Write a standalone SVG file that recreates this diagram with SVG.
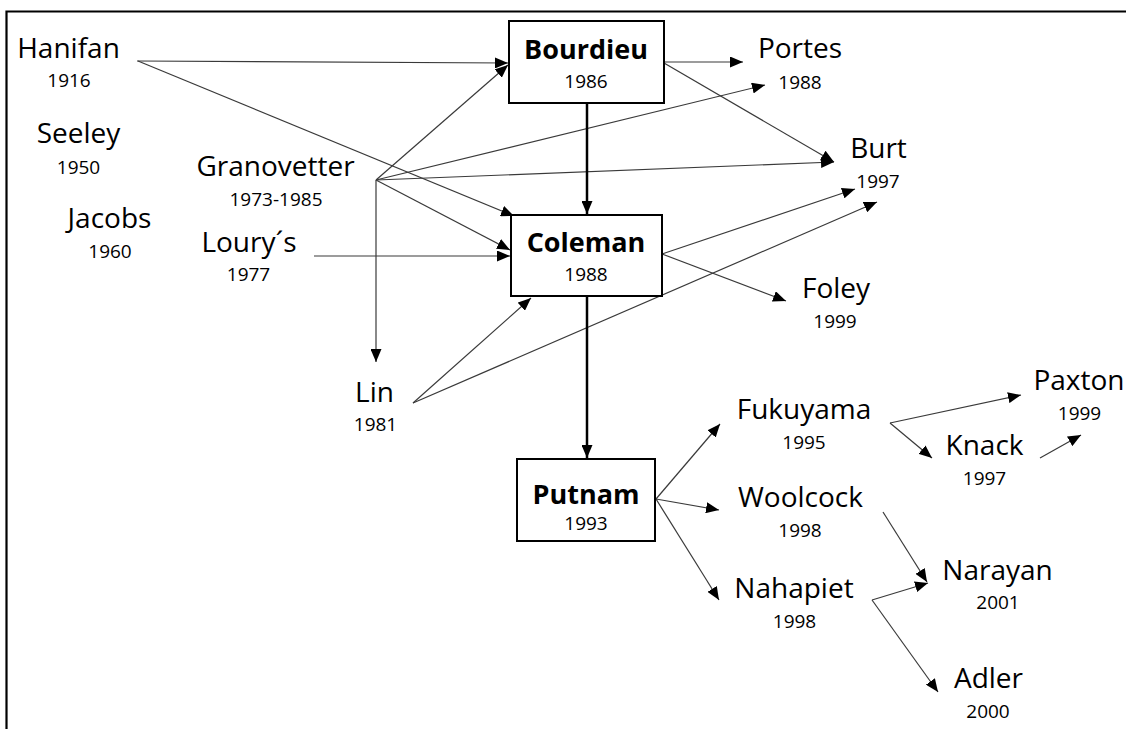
<svg xmlns="http://www.w3.org/2000/svg" width="1126" height="729" viewBox="0 0 1126 729">
  <style>
    .name { font-family: "Open Sans", "Liberation Sans", sans-serif; font-size: 28px; fill: #000; text-anchor: middle; }
    .bold { font-family: "Open Sans", "Liberation Sans", sans-serif; font-size: 27px; font-weight: bold; fill: #000; text-anchor: middle; }
    .year { font-family: "Open Sans", "Liberation Sans", sans-serif; font-size: 19px; fill: #000; text-anchor: middle; }
    .box { fill: #fff; stroke: #000; stroke-width: 2; }
    .thin { fill: none; stroke: #3a3a3a; stroke-width: 1.2; marker-end: url(#head); }
    .thick { fill: none; stroke: #000; stroke-width: 2.5; marker-end: url(#head); }
    .frame { fill: none; stroke: #000; stroke-width: 2.2; }
  </style>
  <defs>
    <marker id="head" markerUnits="userSpaceOnUse" markerWidth="14" markerHeight="11" refX="13" refY="5.5" orient="auto">
      <path d="M0,0 L13,5.5 L0,11 Z" fill="#000"/>
    </marker>
  </defs>

  <rect width="1126" height="729" fill="#fff"/>
  <!-- open frame: top and left edges -->
  <path class="frame" d="M6.5,729 V11.5 H1126"/>

  <!-- connectors -->
  <g id="connectors">
    <line class="thin" x1="137" y1="61" x2="508" y2="63"/>
    <line class="thin" x1="138" y1="61" x2="514" y2="216"/>
    <line class="thin" x1="376" y1="180" x2="508" y2="65"/>
    <line class="thin" x1="376" y1="180" x2="765" y2="85"/>
    <line class="thin" x1="376" y1="180" x2="834" y2="162"/>
    <line class="thin" x1="376" y1="180" x2="510" y2="250"/>
    <line class="thin" x1="376" y1="180" x2="376" y2="362"/>
    <line class="thin" x1="314" y1="256" x2="510" y2="256"/>
    <line class="thin" x1="664" y1="62" x2="743" y2="62"/>
    <line class="thin" x1="664" y1="63" x2="834" y2="162"/>
    <line class="thin" x1="662" y1="254" x2="855" y2="189"/>
    <line class="thin" x1="662" y1="254" x2="786" y2="301"/>
    <line class="thin" x1="413" y1="403" x2="877" y2="202"/>
    <line class="thin" x1="413" y1="403" x2="531" y2="298"/>
    <line class="thick" x1="587" y1="103" x2="587" y2="214"/>
    <line class="thick" x1="587" y1="296" x2="587" y2="458"/>
    <line class="thin" x1="656" y1="499" x2="720" y2="424"/>
    <line class="thin" x1="656" y1="499" x2="719" y2="510"/>
    <line class="thin" x1="656" y1="499" x2="719" y2="600"/>
    <line class="thin" x1="890" y1="423" x2="1021" y2="395"/>
    <line class="thin" x1="890" y1="423" x2="932" y2="458"/>
    <line class="thin" x1="1040" y1="458" x2="1081" y2="435"/>
    <line class="thin" x1="883" y1="512" x2="927" y2="582"/>
    <line class="thin" x1="872" y1="600" x2="928" y2="583"/>
    <line class="thin" x1="872" y1="600" x2="938" y2="692"/>
  </g>

  <!-- nodes -->
  <g id="hanifan"><text class="name" x="68.5" y="58">Hanifan</text><text class="year" x="69" y="87">1916</text></g>
  <g id="seeley"><text class="name" x="78.5" y="143">Seeley</text><text class="year" x="78.5" y="174">1950</text></g>
  <g id="jacobs"><text class="name" x="109.5" y="228">Jacobs</text><text class="year" x="110" y="258">1960</text></g>
  <g id="granovetter"><text class="name" x="275.5" y="176">Granovetter</text><text class="year" x="276" y="206">1973-1985</text></g>
  <g id="loury"><text class="name" x="249" y="252">Loury´s</text><text class="year" x="248.5" y="281">1977</text></g>
  <g id="lin"><text class="name" x="374.5" y="402">Lin</text><text class="year" x="375.5" y="431">1981</text></g>

  <g id="bourdieu">
    <rect class="box" x="509" y="21" width="155" height="82"/>
    <text class="bold" x="586" y="59">Bourdieu</text><text class="year" x="586" y="88">1986</text>
  </g>
  <g id="coleman">
    <rect class="box" x="511" y="215" width="151" height="81"/>
    <text class="bold" x="586" y="252">Coleman</text><text class="year" x="586" y="281">1988</text>
  </g>
  <g id="putnam">
    <rect class="box" x="517" y="459" width="138" height="82"/>
    <text class="bold" x="586" y="504">Putnam</text><text class="year" x="586" y="530">1993</text>
  </g>

  <g id="portes"><text class="name" x="800" y="58">Portes</text><text class="year" x="800" y="89">1988</text></g>
  <g id="burt"><text class="name" x="878.5" y="158">Burt</text><text class="year" x="878" y="188">1997</text></g>
  <g id="foley"><text class="name" x="836" y="298">Foley</text><text class="year" x="835" y="328">1999</text></g>
  <g id="fukuyama"><text class="name" x="804" y="419">Fukuyama</text><text class="year" x="804" y="449">1995</text></g>
  <g id="knack"><text class="name" x="984.5" y="455">Knack</text><text class="year" x="984.5" y="485">1997</text></g>
  <g id="paxton"><text class="name" x="1079" y="390">Paxton</text><text class="year" x="1079.5" y="420">1999</text></g>
  <g id="woolcock"><text class="name" x="800.5" y="507">Woolcock</text><text class="year" x="800" y="537">1998</text></g>
  <g id="nahapiet"><text class="name" x="794" y="598">Nahapiet</text><text class="year" x="794.5" y="628">1998</text></g>
  <g id="narayan"><text class="name" x="997.5" y="580">Narayan</text><text class="year" x="998" y="609">2001</text></g>
  <g id="adler"><text class="name" x="988.5" y="688">Adler</text><text class="year" x="988" y="718">2000</text></g>
</svg>
